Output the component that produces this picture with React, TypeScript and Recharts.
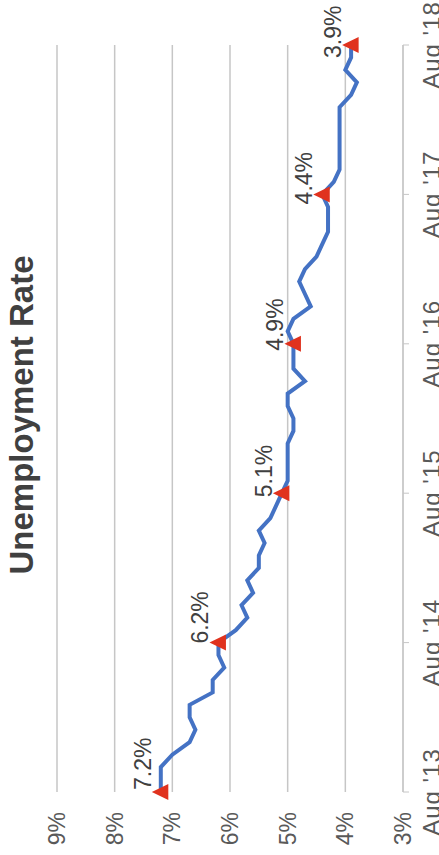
import { LineChart, Line, XAxis, YAxis, CartesianGrid, LabelList } from 'recharts'

const months = [
  "Aug '13", "Sep '13", "Oct '13", "Nov '13", "Dec '13",
  "Jan '14", "Feb '14", "Mar '14", "Apr '14", "May '14", "Jun '14", "Jul '14", "Aug '14", "Sep '14", "Oct '14", "Nov '14", "Dec '14",
  "Jan '15", "Feb '15", "Mar '15", "Apr '15", "May '15", "Jun '15", "Jul '15", "Aug '15", "Sep '15", "Oct '15", "Nov '15", "Dec '15",
  "Jan '16", "Feb '16", "Mar '16", "Apr '16", "May '16", "Jun '16", "Jul '16", "Aug '16", "Sep '16", "Oct '16", "Nov '16", "Dec '16",
  "Jan '17", "Feb '17", "Mar '17", "Apr '17", "May '17", "Jun '17", "Jul '17", "Aug '17", "Sep '17", "Oct '17", "Nov '17", "Dec '17",
  "Jan '18", "Feb '18", "Mar '18", "Apr '18", "May '18", "Jun '18", "Jul '18", "Aug '18",
]

const rates = [
  7.2, 7.2, 7.2, 7.0, 6.7,
  6.6, 6.7, 6.7, 6.3, 6.3, 6.1, 6.2, 6.2, 5.9, 5.7, 5.8, 5.6,
  5.7, 5.5, 5.5, 5.4, 5.5, 5.3, 5.2, 5.1, 5.0, 5.0, 5.0, 5.0,
  4.9, 4.9, 5.0, 5.0, 4.7, 4.9, 4.9, 4.9, 5.0, 4.9, 4.6, 4.7,
  4.8, 4.7, 4.5, 4.4, 4.3, 4.3, 4.3, 4.4, 4.2, 4.1, 4.1, 4.1,
  4.1, 4.1, 4.1, 3.9, 3.8, 4.0, 3.9, 3.9,
]

const rateTicks = [3, 4, 5, 6, 7, 8, 9]

const data = months.map((month, i) => ({ month, rate: rates[i] }))

const FONT = '"Liberation Sans", Arial, sans-serif'
const W = 855
const H = 439

// every August gets a red triangle and its value above it
const renderMarker = (props: any) => {
  const { cx, cy, index } = props
  if (index % 12 !== 0 || cx == null || cy == null) return <g key={`m-${index}`} />
  return (
    <path
      key={`m-${index}`}
      d={`M${cx},${cy - 9} L${cx + 8},${cy + 7.5} L${cx - 8},${cy + 7.5} Z`}
      fill="#E0321E"
    />
  )
}

const renderLabel = (props: any) => {
  const { x, y, value, index } = props
  if (index % 12 !== 0) return null
  const dx = 2 - 3 * (index / 12)
  return (
    <text x={x + dx} y={y - 10} textAnchor="start" fontSize={23} fill="#404040" fontFamily={FONT}>
      {value.toFixed(1)}%
    </text>
  )
}

export default function App() {
  return (
    <div style={{ position: 'relative', width: 439, height: 855 }}>
      <style>{'body{margin:0;overflow:hidden}'}</style>
      {/* chart is laid out landscape, then turned a quarter counter-clockwise */}
      <div
        style={{
          position: 'absolute',
          left: 0,
          top: 0,
          width: W,
          height: H,
          background: '#fff',
          transform: `translateY(${W}px) rotate(-90deg)`,
          transformOrigin: '0 0',
        }}
      >
        <LineChart width={W} height={H} data={data} margin={{ top: 57, right: 45, bottom: 0, left: 0 }}>
          <CartesianGrid vertical={false} stroke="#C6C6C6" strokeWidth={1.5} />
          <XAxis
            dataKey="month"
            interval={11}
            height={36}
            tickSize={6}
            tickMargin={14}
            stroke="#C6C6C6"
            tick={{ fontSize: 24, fill: '#595959', fontFamily: FONT, letterSpacing: 1 }}
          />
          <YAxis
            domain={[3, 9]}
            ticks={rateTicks}
            width={63}
            axisLine={false}
            tickLine={false}
            tickSize={0}
            tickMargin={20}
            tickFormatter={(v: number) => `${v}%`}
            tick={{ fontSize: 23, fill: '#595959', fontFamily: FONT }}
          />
          <Line
            type="linear"
            dataKey="rate"
            stroke="#4472C4"
            strokeWidth={4}
            dot={renderMarker}
            activeDot={false}
            isAnimationActive={false}
          >
            <LabelList dataKey="rate" content={renderLabel} />
          </Line>
        </LineChart>
        <svg width={W} height={H} style={{ position: 'absolute', left: 0, top: 0, pointerEvents: 'none' }}>
          <text x={440} y={33} textAnchor="middle" fontSize={33} fontWeight="bold" fill="#404040" fontFamily={FONT}>
            Unemployment Rate
          </text>
        </svg>
      </div>
    </div>
  )
}
